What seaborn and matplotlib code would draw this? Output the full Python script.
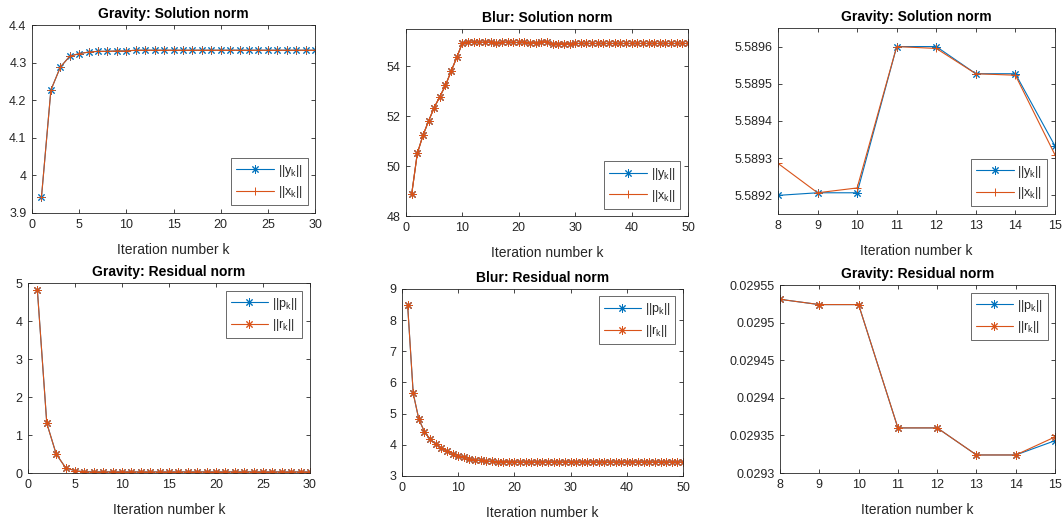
import numpy as np
import pandas as pd
import seaborn as sns
import matplotlib.pyplot as plt
from matplotlib.ticker import MultipleLocator, FuncFormatter

# data
grav_k = list(range(1, 31))
grav_sol_y = [3.942, 4.227, 4.288, 4.317, 4.324, 4.328, 4.330, 4.330, 4.331, 4.331,
              4.333, 4.333, 4.333, 4.333, 4.333, 4.333, 4.333, 4.333, 4.333, 4.333,
              4.333, 4.333, 4.333, 4.333, 4.333, 4.333, 4.333, 4.333, 4.333, 4.333]
grav_sol_x = grav_sol_y
grav_res_p = [4.81, 1.31, 0.50, 0.14, 0.06, 0.031, 0.030, 0.02953, 0.02952, 0.02952,
              0.02936, 0.02936, 0.02932, 0.02932, 0.02934, 0.0293, 0.0293, 0.0293, 0.0293, 0.0293,
              0.0293, 0.0293, 0.0293, 0.0293, 0.0293, 0.0293, 0.0293, 0.0293, 0.0293, 0.0293]
grav_res_r = grav_res_p

blur_k = list(range(1, 51))
blur_sol_y = [48.87, 50.51, 51.23, 51.81, 52.35, 52.79, 53.24, 53.81, 54.36, 54.95,
              54.98, 54.97, 54.97, 54.97, 54.98, 54.93, 54.97, 54.97, 54.96, 54.96,
              54.98, 54.93, 54.95, 54.97, 54.99, 54.90, 54.90, 54.91, 54.91, 54.92,
              54.92, 54.92, 54.92, 54.92, 54.92, 54.92, 54.92, 54.92, 54.92, 54.92,
              54.92, 54.92, 54.92, 54.92, 54.92, 54.92, 54.92, 54.92, 54.92, 54.92]
blur_sol_x = blur_sol_y
blur_res_p = [8.50, 5.65, 4.82, 4.42, 4.18, 4.02, 3.90, 3.80, 3.72, 3.65,
              3.60, 3.56, 3.52, 3.50, 3.48, 3.47, 3.46, 3.46, 3.46, 3.45,
              3.45, 3.45, 3.45, 3.45, 3.45, 3.45, 3.45, 3.45, 3.45, 3.45,
              3.45, 3.45, 3.45, 3.45, 3.45, 3.45, 3.45, 3.45, 3.45, 3.45,
              3.45, 3.45, 3.45, 3.45, 3.45, 3.45, 3.45, 3.45, 3.45, 3.45]
blur_res_r = blur_res_p

zoom_k = [8, 9, 10, 11, 12, 13, 14, 15]
zoom_sol_y = [5.58920, 5.589207, 5.589207, 5.58960, 5.58960, 5.589527, 5.589527, 5.589333]
zoom_sol_x = [5.589286, 5.589207, 5.589220, 5.58960, 5.589595, 5.589527, 5.589523, 5.589309]
zoom_res_p = [0.029531, 0.029524, 0.029524, 0.029360, 0.029360, 0.029324, 0.029324, 0.029343]
zoom_res_r = [0.029531, 0.029524, 0.029524, 0.029360, 0.029360, 0.029324, 0.029324, 0.029348]

sns.set_theme(style="ticks")
plt.rcParams['font.family'] = ['Liberation Sans', 'DejaVu Sans']
plt.rcParams['mathtext.fontset'] = 'custom'
plt.rcParams['mathtext.rm'] = 'Liberation Sans'

blue = '#0072BD'
orange = '#D95319'
dark = '#262626'
star = (8, 2, 0)

fig = plt.figure(figsize=(10.64, 5.19), dpi=100)

positions = [
    [0.0301, 0.5896, 0.2660, 0.3622],
    [0.3816, 0.5838, 0.2650, 0.3603],
    [0.7312, 0.5877, 0.2603, 0.3584],
    [0.0263, 0.0886, 0.2650, 0.3661],
    [0.3778, 0.0829, 0.2641, 0.3603],
    [0.7331, 0.0886, 0.2585, 0.3622],
]

# k, series a, series b, title, names, 2nd marker, xlim, ylim, xstep, ystep, legend loc
panels = [
    (grav_k, grav_sol_y, grav_sol_x, 'Gravity: Solution norm', ('y', 'x'), '+', (0, 30), (3.9, 4.4), 5, 0.1, 'lower right'),
    (blur_k, blur_sol_y, blur_sol_x, 'Blur: Solution norm', ('y', 'x'), '+', (0, 50), (48, 55.5), 10, 2, 'lower right'),
    (zoom_k, zoom_sol_y, zoom_sol_x, 'Gravity: Solution norm', ('y', 'x'), '+', (8, 15), (5.58915, 5.58965), 1, 0.0001, 'lower right'),
    (grav_k, grav_res_p, grav_res_r, 'Gravity: Residual norm', ('p', 'r'), star, (0, 30), (0, 5), 5, 1, 'upper right'),
    (blur_k, blur_res_p, blur_res_r, 'Blur: Residual norm', ('p', 'r'), star, (0, 50), (3, 9), 10, 1, 'upper right'),
    (zoom_k, zoom_res_p, zoom_res_r, 'Gravity: Residual norm', ('p', 'r'), star, (8, 15), (0.0293, 0.02955), 1, 0.00005, 'upper right'),
]

fmt = FuncFormatter(lambda v, p: '%g' % round(v, 10))

for i, (pos, (k, a, b, title, names, mk2, xl, yl, xs, ys, loc)) in enumerate(zip(positions, panels)):
    ax = fig.add_axes(pos)
    sns.lineplot(x=k, y=a, ax=ax, color=blue, marker=star, markersize=6,
                 mec=blue, mew=0.7, lw=0.8, label=r'$\mathregular{||%s_k||}$' % names[0])
    sns.lineplot(x=k, y=b, ax=ax, color=orange, marker=mk2, markersize=6,
                 mec=orange, mew=0.7, lw=0.8, label=r'$\mathregular{||%s_k||}$' % names[1])
    if i == 1:
        # blur solution: the orange marks fully cover the blue ones
        sns.lineplot(x=k, y=b, ax=ax, color=orange, marker=star, markersize=6,
                     mec=orange, mew=0.7, lw=0.8)
    ax.set_xlim(*xl)
    ax.set_ylim(*yl)
    ax.xaxis.set_major_locator(MultipleLocator(xs))
    ax.yaxis.set_major_locator(MultipleLocator(ys))
    ax.xaxis.set_major_formatter(fmt)
    ax.yaxis.set_major_formatter(fmt)
    ax.set_title(title, fontsize=10, fontweight='bold', color='black', pad=5)
    ax.set_xlabel('Iteration number k', fontsize=10, color=dark, labelpad=9)
    ax.set_ylabel('')
    ax.tick_params(direction='in', top=True, right=True, length=3, width=0.6,
                   labelsize=9, colors=dark, pad=4)
    for s in ax.spines.values():
        s.set_linewidth(0.6)
        s.set_color(dark)
    leg = ax.legend(loc=loc, fontsize=9, handlelength=3.0, frameon=True, fancybox=False,
                    borderpad=0.4, labelspacing=0.45, handletextpad=0.3, borderaxespad=0.6)
    leg.get_frame().set_edgecolor(dark)
    leg.get_frame().set_linewidth(0.6)

fig.savefig('out.png', dpi=100)
